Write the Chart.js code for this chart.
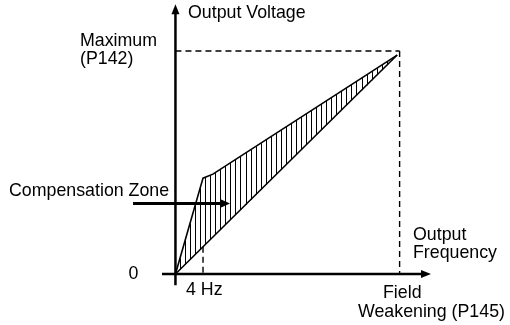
<!DOCTYPE html>
<html>
<head>
<meta charset="utf-8">
<script src="https://cdn.jsdelivr.net/npm/chart.js@4"></script>
<style>
  html, body { margin: 0; padding: 0; background: #fff; }
  #wrap { width: 510px; height: 325px; }
</style>
</head>
<body>
<div id="wrap"><canvas id="c" width="510" height="325"></canvas></div>
<script>
// V/f characteristic, in percent of field-weakening frequency and maximum voltage
const freqUpper = [0, 12.3, 16.7, 98.9];
const voltUpper = [0, 43.0, 44.8, 98.2];
const freqLower = [0, 98.9];
const voltLower = [0, 98.2];
const boostFreq = 12.3;       // 4 Hz point
const fieldWeakFreq = 100;    // P145
const maxVolt = 100;          // P142
const hatchStep = 2.25;       // spacing of the hatching across the compensation zone

const FONT = '17.8px "Liberation Sans", Arial, sans-serif';

function toPoints(xs, ys) { return xs.map((x, i) => ({ x: x, y: ys[i] })); }

function interp(xs, ys, x) {
  for (let i = 1; i < xs.length; i++) {
    if (x <= xs[i]) {
      const t = (x - xs[i - 1]) / (xs[i] - xs[i - 1]);
      return ys[i - 1] + t * (ys[i] - ys[i - 1]);
    }
  }
  return ys[ys.length - 1];
}

function arrowHead(ctx, x, y, dir, len, half) {
  ctx.beginPath();
  if (dir === 'up') {
    ctx.moveTo(x, y); ctx.lineTo(x - half, y + len); ctx.lineTo(x + half, y + len);
  } else {
    ctx.moveTo(x, y); ctx.lineTo(x - len, y - half); ctx.lineTo(x - len, y + half);
  }
  ctx.closePath();
  ctx.fill();
}

// hatching, axes, guides and annotations
const diagramPlugin = {
  id: 'diagram',
  beforeDatasetsDraw(chart) {
    const ctx = chart.ctx, xs = chart.scales.x, ys = chart.scales.y;
    ctx.save();
    ctx.strokeStyle = '#000';
    ctx.lineWidth = 1;
    const end = freqUpper[freqUpper.length - 1];
    for (let f = 2; f < end - 0.5; f += hatchStep) {
      const px = Math.round(xs.getPixelForValue(f)) + 0.5;
      ctx.beginPath();
      ctx.moveTo(px, ys.getPixelForValue(interp(freqUpper, voltUpper, f)));
      ctx.lineTo(px, ys.getPixelForValue(interp(freqLower, voltLower, f)));
      ctx.stroke();
    }
    // dashed guides
    ctx.setLineDash([6, 4]);
    ctx.lineWidth = 1.4;
    const x0 = xs.getPixelForValue(0), y0 = ys.getPixelForValue(0);
    const xFW = xs.getPixelForValue(fieldWeakFreq), yMax = ys.getPixelForValue(maxVolt);
    ctx.beginPath();
    ctx.moveTo(x0, yMax); ctx.lineTo(xFW, yMax);
    ctx.moveTo(xFW, yMax); ctx.lineTo(xFW, y0);
    const xb = xs.getPixelForValue(boostFreq);
    ctx.moveTo(xb, ys.getPixelForValue(interp(freqLower, voltLower, boostFreq))); ctx.lineTo(xb, y0);
    ctx.stroke();
    ctx.restore();
  },
  afterDraw(chart) {
    const ctx = chart.ctx, xs = chart.scales.x, ys = chart.scales.y;
    const x0 = xs.getPixelForValue(0), y0 = ys.getPixelForValue(0);
    ctx.save();
    ctx.strokeStyle = '#000';
    ctx.fillStyle = '#000';
    ctx.lineWidth = 2.5;
    // axes
    const xEnd = xs.getPixelForValue(xs.max), yTop = ys.getPixelForValue(ys.max);
    ctx.beginPath();
    ctx.moveTo(xs.getPixelForValue(xs.min), y0); ctx.lineTo(xEnd - 8, y0);
    ctx.moveTo(x0, ys.getPixelForValue(ys.min)); ctx.lineTo(x0, yTop + 8);
    ctx.stroke();
    arrowHead(ctx, xEnd, y0, 'right', 10, 4);
    arrowHead(ctx, x0, yTop, 'up', 10, 4);
    // compensation zone pointer
    const ay = 203.5;
    ctx.lineWidth = 2.8;
    ctx.beginPath();
    ctx.moveTo(133, ay); ctx.lineTo(221, ay);
    ctx.stroke();
    arrowHead(ctx, 230, ay, 'right', 10, 4.5);

    // labels
    ctx.font = FONT;
    ctx.textBaseline = 'alphabetic';
    ctx.textAlign = 'left';
    ctx.fillText('Output Voltage', 188, 18);
    ctx.fillText('Maximum', 80, 46);
    ctx.fillText('(P142)', 80, 64);
    ctx.fillText('Compensation Zone', 9, 196);
    ctx.fillText('4 Hz', 186, 295);
    ctx.fillText('Output', 413, 240);
    ctx.fillText('Frequency', 413, 258);
    ctx.fillText('Field', 383, 298);
    ctx.fillText('Weakening (P145)', 358, 317);
    ctx.textAlign = 'center';
    ctx.fillText('0', 133.5, 279);
    ctx.restore();
  }
};

new Chart(document.getElementById('c'), {
  type: 'scatter',
  data: {
    datasets: [
      { data: toPoints(freqUpper, voltUpper), showLine: true, borderColor: '#000', borderWidth: 1.6,
        pointRadius: 0, tension: 0, clip: false },
      { data: toPoints(freqLower, voltLower), showLine: true, borderColor: '#000', borderWidth: 1.6,
        pointRadius: 0, tension: 0, clip: false }
    ]
  },
  options: {
    responsive: false,
    animation: false,
    events: [],
    layout: { padding: { left: 162, right: 79, top: 4.2, bottom: 39.8 } },
    plugins: { legend: { display: false }, tooltip: { enabled: false }, title: { display: false } },
    scales: {
      x: { type: 'linear', min: -6, max: 114, display: false },
      y: { type: 'linear', min: -5, max: 121, display: false }
    }
  },
  plugins: [diagramPlugin]
});
</script>
</body>
</html>
